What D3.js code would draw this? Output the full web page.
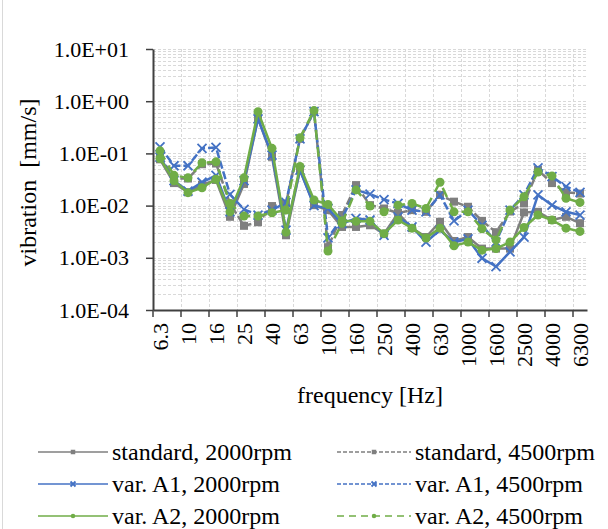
<!DOCTYPE html>
<html>
<head>
<meta charset="utf-8">
<script src="https://cdn.jsdelivr.net/npm/d3@7"></script>
<style>
  body { margin: 0; background: #fff; }
  svg text { font-family: "Liberation Serif", "Times New Roman", serif; fill: #000; }
</style>
</head>
<body>
<div id="chart"></div>
<script>
// 1/3 octave band centre frequencies
var freqs = ["6.3", "8", "10", "12.5", "16", "20", "25", "31.5", "40", "50", "63", "80", "100", "125", "160",
  "200", "250", "315", "400", "500", "630", "800", "1000", "1250", "1600", "2000", "2500", "3150", "4000", "5000", "6300"];

// vibration [mm/s] per band
var std2000 = [0.077, 0.027, 0.018, 0.025, 0.031, 0.0061, 0.026, 0.47, 0.086, 0.0027, 0.048, 0.0102, 0.0082, 0.0039, 0.0039,
  0.0042, 0.0029, 0.0071, 0.0037, 0.0025, 0.0049, 0.0021, 0.0025, 0.0015, 0.0015, 0.0015, 0.0074, 0.0076, 0.0053, 0.0061, 0.0046];
var std4500 = [0.09, 0.033, 0.033, 0.062, 0.064, 0.011, 0.0041, 0.0048, 0.0098, 0.011, 0.19, 0.63, 0.0016, 0.0066, 0.0247,
  0.0102, 0.0088, 0.0072, 0.0082, 0.0076, 0.016, 0.0119, 0.0095, 0.0051, 0.0031, 0.0077, 0.011, 0.048, 0.027, 0.018, 0.017];
var a1_2000 = [0.085, 0.030, 0.019, 0.028, 0.038, 0.0076, 0.030, 0.46, 0.093, 0.0034, 0.048, 0.010, 0.0088, 0.0045, 0.0057,
  0.0053, 0.0027, 0.0061, 0.0039, 0.002, 0.0034, 0.002, 0.0023, 0.00098, 0.00068, 0.0013, 0.0025, 0.016, 0.0102, 0.0076, 0.0066];
var a1_4500 = [0.134, 0.058, 0.058, 0.125, 0.13, 0.0164, 0.0085, 0.0066, 0.0082, 0.0115, 0.19, 0.63, 0.0024, 0.0057, 0.02,
  0.0166, 0.013, 0.011, 0.0082, 0.0076, 0.016, 0.0051, 0.0082, 0.0042, 0.002, 0.0082, 0.016, 0.053, 0.036, 0.023, 0.018];
var a2_2000 = [0.08, 0.030, 0.0177, 0.022, 0.032, 0.0076, 0.034, 0.63, 0.125, 0.0031, 0.056, 0.0128, 0.0105, 0.0051, 0.005,
  0.005, 0.0029, 0.0053, 0.0037, 0.0024, 0.0037, 0.0017, 0.002, 0.0014, 0.0015, 0.002, 0.0038, 0.0066, 0.0053, 0.0037, 0.0032];
var a2_4500 = [0.112, 0.038, 0.034, 0.066, 0.069, 0.011, 0.0063, 0.0063, 0.0073, 0.0082, 0.2, 0.66, 0.00135, 0.0046, 0.020,
  0.0098, 0.0076, 0.0102, 0.011, 0.0088, 0.028, 0.0076, 0.0076, 0.0036, 0.0022, 0.0082, 0.0148, 0.044, 0.037, 0.0138, 0.0115];

var yTicks = [1e-4, 1e-3, 1e-2, 1e-1, 1e0, 1e1];

var series = [
  { name: "standard, 2000rpm", values: std2000, color: "#7f7f7f", dash: null, legDash: null, marker: "square" },
  { name: "standard, 4500rpm", values: std4500, color: "#7f7f7f", dash: "8,3", legDash: "4,2", marker: "square" },
  { name: "var. A1, 2000rpm", values: a1_2000, color: "#4472c4", dash: null, legDash: null, marker: "x" },
  { name: "var. A1, 4500rpm", values: a1_4500, color: "#4472c4", dash: "8,3", legDash: "4,2", marker: "x" },
  { name: "var. A2, 2000rpm", values: a2_2000, color: "#70ad47", dash: null, legDash: null, marker: "circle" },
  { name: "var. A2, 4500rpm", values: a2_4500, color: "#70ad47", dash: "10,7", legDash: "7,5", marker: "circle" }
];

var svgWidth = 608;
var svgHeight = 529;
var margin = { top: 49, right: 21, bottom: 219, left: 153 };
var width = svgWidth - margin.left - margin.right;
var height = svgHeight - margin.top - margin.bottom;
var tickFont = "22px";
var titleFont = "24px";

var svg = d3.select("#chart")
  .append("svg")
  .attr("width", svgWidth)
  .attr("height", svgHeight);

// chart border (only left edge visible in the crop)
svg.append("line")
  .attr("x1", 2.5).attr("x2", 2.5)
  .attr("y1", 0).attr("y2", svgHeight)
  .attr("stroke", "#d9d9d9")
  .attr("stroke-width", 1);

var chartGroup = svg.append("g")
  .attr("transform", `translate(${margin.left}, ${margin.top})`);

var x = d3.scaleBand().domain(freqs).range([0, width]);
var y = d3.scaleLog().domain([1e-4, 1e1]).range([height, 0]);

// horizontal gridlines: decades and 2..9 minors
var gridVals = [];
for (var e = -4; e <= 0; e++) {
  for (var m = 1; m <= 9; m++) gridVals.push(m * Math.pow(10, e));
}
gridVals.push(10);
chartGroup.append("g").selectAll("line")
  .data(gridVals)
  .enter()
  .append("line")
  .attr("x1", 0).attr("x2", width)
  .attr("y1", d => Math.round(y(d)) + 0.5)
  .attr("y2", d => Math.round(y(d)) + 0.5)
  .attr("stroke", "#d9d9d9")
  .attr("stroke-dasharray", "3,2")
  .attr("stroke-width", 1);

// vertical gridlines at every second category boundary
var boundaryCats = freqs.filter((d, i) => i % 2 === 0 && i > 0);
chartGroup.append("g").selectAll("line")
  .data(boundaryCats)
  .enter()
  .append("line")
  .attr("x1", d => Math.round(x(d)) + 0.5)
  .attr("x2", d => Math.round(x(d)) + 0.5)
  .attr("y1", 0).attr("y2", height)
  .attr("stroke", "#d9d9d9")
  .attr("stroke-dasharray", "3,2")
  .attr("stroke-width", 1);

function fmtE(v) {
  var p = Math.round(Math.log10(v));
  var s = Math.abs(p) < 10 ? "0" + Math.abs(p) : "" + Math.abs(p);
  return "1.0E" + (p < 0 ? "-" : "+") + s;
}

// y axis
var leftAxis = d3.axisLeft(y).tickValues(yTicks).tickFormat(fmtE).tickSizeInner(7).tickSizeOuter(0).tickPadding(17);
var yAxis = chartGroup.append("g").call(leftAxis).attr("font-family", null).attr("font-size", null);
yAxis.select(".domain").attr("stroke", "#404040").attr("stroke-width", 2);
yAxis.selectAll(".tick line").attr("stroke", "#404040").attr("stroke-width", 1.5);
yAxis.selectAll("text").attr("font-size", tickFont);

// x axis: labels every second band, ticks on band boundaries
var labelCats = freqs.filter((d, i) => i % 2 === 0);
var bottomAxis = d3.axisBottom(x).tickValues(labelCats).tickSize(0).tickPadding(0);
var xAxis = chartGroup.append("g")
  .attr("transform", `translate(0, ${height})`)
  .call(bottomAxis)
  .attr("font-family", null).attr("font-size", null);
xAxis.select(".domain").attr("stroke", "#404040").attr("stroke-width", 2);
xAxis.selectAll("text")
  .attr("font-size", tickFont)
  .attr("text-anchor", "end")
  .attr("transform", "rotate(-90)")
  .attr("x", -13)
  .attr("y", 0)
  .attr("dy", "0.35em");
xAxis.append("g").selectAll("line")
  .data(labelCats)
  .enter()
  .append("line")
  .attr("x1", d => x(d)).attr("x2", d => x(d))
  .attr("y1", 0).attr("y2", 7)
  .attr("stroke", "#404040")
  .attr("stroke-width", 1.5);

// axis titles
svg.append("text")
  .attr("transform", `translate(28, ${margin.top + height / 2 + 3}) rotate(-90)`)
  .attr("text-anchor", "middle")
  .attr("dy", "0.35em")
  .attr("font-size", titleFont)
  .attr("xml:space", "preserve")
  .text("vibration  [mm/s]");

svg.append("text")
  .attr("x", margin.left + width / 2)
  .attr("y", 403)
  .attr("text-anchor", "middle")
  .attr("font-size", titleFont)
  .text("frequency [Hz]");

function drawMarker(g, type, cx, cy, size, color) {
  var h = size / 2;
  if (type === "square") {
    g.append("rect")
      .attr("x", cx - h).attr("y", cy - h)
      .attr("width", size).attr("height", size)
      .attr("fill", color);
  } else if (type === "circle") {
    g.append("circle")
      .attr("cx", cx).attr("cy", cy).attr("r", h)
      .attr("fill", color);
  } else {
    g.append("path")
      .attr("d", `M${cx - h},${cy - h}L${cx + h},${cy + h}M${cx - h},${cy + h}L${cx + h},${cy - h}`)
      .attr("stroke", color)
      .attr("stroke-width", 1.8)
      .attr("fill", "none");
  }
}

var line = d3.line()
  .x((d, i) => x(freqs[i]) + x.bandwidth() / 2)
  .y(d => y(d));

series.forEach(function(s) {
  var g = chartGroup.append("g");
  g.append("path")
    .datum(s.values)
    .attr("d", line)
    .attr("fill", "none")
    .attr("stroke", s.color)
    .attr("stroke-width", 2.5)
    .attr("stroke-linejoin", "round")
    .attr("stroke-dasharray", s.dash);
  s.values.forEach(function(v, i) {
    var size = s.marker === "circle" ? 9 : (s.marker === "square" ? 8 : 9);
    drawMarker(g, s.marker, x(freqs[i]) + x.bandwidth() / 2, y(v), size, s.color);
  });
});

// legend
var legRows = [452, 484, 516];
var legCols = [{ x1: 38, x2: 108, tx: 112 }, { x1: 337, x2: 411, tx: 415 }];
series.forEach(function(s, i) {
  var col = legCols[i % 2];
  var ry = legRows[Math.floor(i / 2)];
  var lg = svg.append("g");
  lg.append("line")
    .attr("x1", col.x1).attr("x2", col.x2)
    .attr("y1", ry).attr("y2", ry)
    .attr("stroke", s.color)
    .attr("stroke-width", 1.5)
    .attr("stroke-dasharray", s.legDash);
  drawMarker(lg, s.marker, (col.x1 + col.x2) / 2, ry, s.marker === "x" ? 5 : 4.5, s.color);
  lg.append("text")
    .attr("x", col.tx)
    .attr("y", ry)
    .attr("dy", "0.35em")
    .attr("font-size", titleFont)
    .text(s.name);
});
</script>
</body>
</html>
